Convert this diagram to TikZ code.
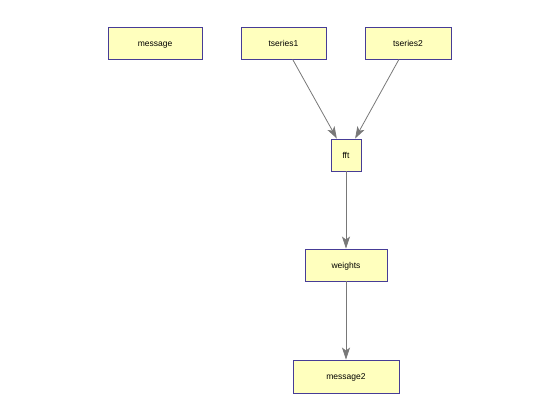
\documentclass[tikz,border=0pt]{standalone}
\usepackage{fontspec}
\setmainfont{Liberation Sans}
\usetikzlibrary{arrows.meta}

\definecolor{boxfill}{RGB}{255,255,190}
\definecolor{boxline}{RGB}{70,60,150}
\definecolor{edgegray}{RGB}{120,120,120}

\tikzset{
    box/.style={draw=boxline, fill=boxfill, inner sep=0pt, line width=0.9pt,
        minimum height=32pt, text height=6.5pt, text depth=0pt,
        font=\fontsize{8.5}{10}\selectfont},
    flow/.style={draw=edgegray, line width=0.8pt,
        -{Stealth[length=12pt,width=8pt,inset=3pt]}}
}

\begin{document}
\begin{tikzpicture}[x=1pt, y=-1pt]
    \useasboundingbox (0,0) rectangle (560,420);
    % top row
    \node[box, minimum width=94pt] (message) at (155,43) {message};
    \node[box, minimum width=85pt] (tseries1) at (283.5,43) {tseries1};
    \node[box, minimum width=86pt] (tseries2) at (408,43) {tseries2};
    % pipeline
    \node[box, minimum width=30pt] (fft) at (346,155) {fft};
    \node[box, minimum width=82pt] (weights) at (346,265) {weights};
    \node[box, minimum width=106pt, minimum height=33pt] (message2) at (346,376.5) {message2};
    \draw[flow] (tseries1) -- (fft);
    \draw[flow] (tseries2) -- (fft);
    \draw[flow] (fft) -- (weights);
    \draw[flow] (weights) -- (message2);
\end{tikzpicture}
\end{document}
